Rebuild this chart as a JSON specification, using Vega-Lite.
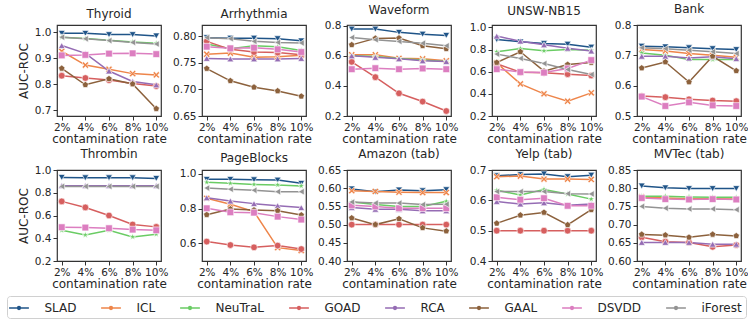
{
"$schema": "https://vega.github.io/schema/vega-lite/v6.json",
"background": "white",
"padding": {"left": 6, "top": 2, "right": 2, "bottom": 2},
"bounds": "flush",
"columns": 5,
"spacing": {"row": 54, "column": 41},
"resolve": {"scale": {"x": "independent", "y": "independent"}},
"config": {
 "font": "DejaVu Sans",
 "view": {"stroke": "#333333", "strokeWidth": 1.2},
 "axis": {"labelFontSize": 10.5, "titleFontSize": 12, "titleFontWeight": "normal", "labelColor": "#262626", "titleColor": "#262626", "tickColor": "#333333", "tickSize": 4, "domain": false, "grid": false, "labelPadding": 2},
 "axisX": {"labelAngle": 0, "labelOverlap": false, "titlePadding": 1},
 "axisY": {"titlePadding": 4},
 "title": {"fontSize": 12, "fontWeight": "normal", "offset": 4, "color": "#262626"},
 "legend": {"orient": "none", "legendX": -50, "legendY": 271, "direction": "horizontal", "columns": 8, "title": null, "labelFontSize": 12, "labelColor": "#262626", "strokeColor": "#d0d0d0", "cornerRadius": 3, "padding": 4, "columnPadding": 21, "labelOffset": 17.5, "symbolSize": 200, "symbolStrokeWidth": 1.5}
},
"data": {"values": [
{"panel":"Thyroid","method":"SLAD","rate":"2%","auc":0.995},{"panel":"Thyroid","method":"SLAD","rate":"4%","auc":0.995},{"panel":"Thyroid","method":"SLAD","rate":"6%","auc":0.99},{"panel":"Thyroid","method":"SLAD","rate":"8%","auc":0.99},{"panel":"Thyroid","method":"SLAD","rate":"10%","auc":0.985},
{"panel":"Thyroid","method":"ICL","rate":"2%","auc":0.926},{"panel":"Thyroid","method":"ICL","rate":"4%","auc":0.873},{"panel":"Thyroid","method":"ICL","rate":"6%","auc":0.857},{"panel":"Thyroid","method":"ICL","rate":"8%","auc":0.84},{"panel":"Thyroid","method":"ICL","rate":"10%","auc":0.835},
{"panel":"Thyroid","method":"NeuTraL","rate":"2%","auc":0.98},{"panel":"Thyroid","method":"NeuTraL","rate":"4%","auc":0.975},{"panel":"Thyroid","method":"NeuTraL","rate":"6%","auc":0.968},{"panel":"Thyroid","method":"NeuTraL","rate":"8%","auc":0.962},{"panel":"Thyroid","method":"NeuTraL","rate":"10%","auc":0.957},
{"panel":"Thyroid","method":"GOAD","rate":"2%","auc":0.832},{"panel":"Thyroid","method":"GOAD","rate":"4%","auc":0.823},{"panel":"Thyroid","method":"GOAD","rate":"6%","auc":0.815},{"panel":"Thyroid","method":"GOAD","rate":"8%","auc":0.802},{"panel":"Thyroid","method":"GOAD","rate":"10%","auc":0.792},
{"panel":"Thyroid","method":"RCA","rate":"2%","auc":0.948},{"panel":"Thyroid","method":"RCA","rate":"4%","auc":0.918},{"panel":"Thyroid","method":"RCA","rate":"6%","auc":0.85},{"panel":"Thyroid","method":"RCA","rate":"8%","auc":0.81},{"panel":"Thyroid","method":"RCA","rate":"10%","auc":0.797},
{"panel":"Thyroid","method":"GAAL","rate":"2%","auc":0.86},{"panel":"Thyroid","method":"GAAL","rate":"4%","auc":0.797},{"panel":"Thyroid","method":"GAAL","rate":"6%","auc":0.82},{"panel":"Thyroid","method":"GAAL","rate":"8%","auc":0.8},{"panel":"Thyroid","method":"GAAL","rate":"10%","auc":0.705},
{"panel":"Thyroid","method":"DSVDD","rate":"2%","auc":0.91},{"panel":"Thyroid","method":"DSVDD","rate":"4%","auc":0.912},{"panel":"Thyroid","method":"DSVDD","rate":"6%","auc":0.917},{"panel":"Thyroid","method":"DSVDD","rate":"8%","auc":0.918},{"panel":"Thyroid","method":"DSVDD","rate":"10%","auc":0.915},
{"panel":"Thyroid","method":"iForest","rate":"2%","auc":0.98},{"panel":"Thyroid","method":"iForest","rate":"4%","auc":0.974},{"panel":"Thyroid","method":"iForest","rate":"6%","auc":0.967},{"panel":"Thyroid","method":"iForest","rate":"8%","auc":0.96},{"panel":"Thyroid","method":"iForest","rate":"10%","auc":0.954},
{"panel":"Arrhythmia","method":"SLAD","rate":"2%","auc":0.797},{"panel":"Arrhythmia","method":"SLAD","rate":"4%","auc":0.796},{"panel":"Arrhythmia","method":"SLAD","rate":"6%","auc":0.796},{"panel":"Arrhythmia","method":"SLAD","rate":"8%","auc":0.795},{"panel":"Arrhythmia","method":"SLAD","rate":"10%","auc":0.791},
{"panel":"Arrhythmia","method":"ICL","rate":"2%","auc":0.766},{"panel":"Arrhythmia","method":"ICL","rate":"4%","auc":0.768},{"panel":"Arrhythmia","method":"ICL","rate":"6%","auc":0.76},{"panel":"Arrhythmia","method":"ICL","rate":"8%","auc":0.761},{"panel":"Arrhythmia","method":"ICL","rate":"10%","auc":0.764},
{"panel":"Arrhythmia","method":"NeuTraL","rate":"2%","auc":0.785},{"panel":"Arrhythmia","method":"NeuTraL","rate":"4%","auc":0.776},{"panel":"Arrhythmia","method":"NeuTraL","rate":"6%","auc":0.782},{"panel":"Arrhythmia","method":"NeuTraL","rate":"8%","auc":0.78},{"panel":"Arrhythmia","method":"NeuTraL","rate":"10%","auc":0.773},
{"panel":"Arrhythmia","method":"GOAD","rate":"2%","auc":0.79},{"panel":"Arrhythmia","method":"GOAD","rate":"4%","auc":0.775},{"panel":"Arrhythmia","method":"GOAD","rate":"6%","auc":0.77},{"panel":"Arrhythmia","method":"GOAD","rate":"8%","auc":0.769},{"panel":"Arrhythmia","method":"GOAD","rate":"10%","auc":0.765},
{"panel":"Arrhythmia","method":"RCA","rate":"2%","auc":0.758},{"panel":"Arrhythmia","method":"RCA","rate":"4%","auc":0.757},{"panel":"Arrhythmia","method":"RCA","rate":"6%","auc":0.757},{"panel":"Arrhythmia","method":"RCA","rate":"8%","auc":0.757},{"panel":"Arrhythmia","method":"RCA","rate":"10%","auc":0.758},
{"panel":"Arrhythmia","method":"GAAL","rate":"2%","auc":0.739},{"panel":"Arrhythmia","method":"GAAL","rate":"4%","auc":0.716},{"panel":"Arrhythmia","method":"GAAL","rate":"6%","auc":0.704},{"panel":"Arrhythmia","method":"GAAL","rate":"8%","auc":0.697},{"panel":"Arrhythmia","method":"GAAL","rate":"10%","auc":0.687},
{"panel":"Arrhythmia","method":"DSVDD","rate":"2%","auc":0.78},{"panel":"Arrhythmia","method":"DSVDD","rate":"4%","auc":0.777},{"panel":"Arrhythmia","method":"DSVDD","rate":"6%","auc":0.778},{"panel":"Arrhythmia","method":"DSVDD","rate":"8%","auc":0.775},{"panel":"Arrhythmia","method":"DSVDD","rate":"10%","auc":0.77},
{"panel":"Arrhythmia","method":"iForest","rate":"2%","auc":0.797},{"panel":"Arrhythmia","method":"iForest","rate":"4%","auc":0.795},{"panel":"Arrhythmia","method":"iForest","rate":"6%","auc":0.79},{"panel":"Arrhythmia","method":"iForest","rate":"8%","auc":0.788},{"panel":"Arrhythmia","method":"iForest","rate":"10%","auc":0.787},
{"panel":"Waveform","method":"SLAD","rate":"2%","auc":0.778},{"panel":"Waveform","method":"SLAD","rate":"4%","auc":0.778},{"panel":"Waveform","method":"SLAD","rate":"6%","auc":0.756},{"panel":"Waveform","method":"SLAD","rate":"8%","auc":0.744},{"panel":"Waveform","method":"SLAD","rate":"10%","auc":0.736},
{"panel":"Waveform","method":"ICL","rate":"2%","auc":0.607},{"panel":"Waveform","method":"ICL","rate":"4%","auc":0.607},{"panel":"Waveform","method":"ICL","rate":"6%","auc":0.584},{"panel":"Waveform","method":"ICL","rate":"8%","auc":0.58},{"panel":"Waveform","method":"ICL","rate":"10%","auc":0.567},
{"panel":"Waveform","method":"NeuTraL","rate":"2%","auc":0.6},{"panel":"Waveform","method":"NeuTraL","rate":"4%","auc":0.595},{"panel":"Waveform","method":"NeuTraL","rate":"6%","auc":0.582},{"panel":"Waveform","method":"NeuTraL","rate":"8%","auc":0.573},{"panel":"Waveform","method":"NeuTraL","rate":"10%","auc":0.562},
{"panel":"Waveform","method":"GOAD","rate":"2%","auc":0.56},{"panel":"Waveform","method":"GOAD","rate":"4%","auc":0.458},{"panel":"Waveform","method":"GOAD","rate":"6%","auc":0.351},{"panel":"Waveform","method":"GOAD","rate":"8%","auc":0.296},{"panel":"Waveform","method":"GOAD","rate":"10%","auc":0.233},
{"panel":"Waveform","method":"RCA","rate":"2%","auc":0.6},{"panel":"Waveform","method":"RCA","rate":"4%","auc":0.59},{"panel":"Waveform","method":"RCA","rate":"6%","auc":0.58},{"panel":"Waveform","method":"RCA","rate":"8%","auc":0.567},{"panel":"Waveform","method":"RCA","rate":"10%","auc":0.562},
{"panel":"Waveform","method":"GAAL","rate":"2%","auc":0.673},{"panel":"Waveform","method":"GAAL","rate":"4%","auc":0.716},{"panel":"Waveform","method":"GAAL","rate":"6%","auc":0.718},{"panel":"Waveform","method":"GAAL","rate":"8%","auc":0.667},{"panel":"Waveform","method":"GAAL","rate":"10%","auc":0.647},
{"panel":"Waveform","method":"DSVDD","rate":"2%","auc":0.511},{"panel":"Waveform","method":"DSVDD","rate":"4%","auc":0.518},{"panel":"Waveform","method":"DSVDD","rate":"6%","auc":0.511},{"panel":"Waveform","method":"DSVDD","rate":"8%","auc":0.516},{"panel":"Waveform","method":"DSVDD","rate":"10%","auc":0.511},
{"panel":"Waveform","method":"iForest","rate":"2%","auc":0.722},{"panel":"Waveform","method":"iForest","rate":"4%","auc":0.707},{"panel":"Waveform","method":"iForest","rate":"6%","auc":0.696},{"panel":"Waveform","method":"iForest","rate":"8%","auc":0.684},{"panel":"Waveform","method":"iForest","rate":"10%","auc":0.667},
{"panel":"UNSW-NB15","method":"SLAD","rate":"2%","auc":0.891},{"panel":"UNSW-NB15","method":"SLAD","rate":"4%","auc":0.87},{"panel":"UNSW-NB15","method":"SLAD","rate":"6%","auc":0.855},{"panel":"UNSW-NB15","method":"SLAD","rate":"8%","auc":0.848},{"panel":"UNSW-NB15","method":"SLAD","rate":"10%","auc":0.822},
{"panel":"UNSW-NB15","method":"ICL","rate":"2%","auc":0.68},{"panel":"UNSW-NB15","method":"ICL","rate":"4%","auc":0.49},{"panel":"UNSW-NB15","method":"ICL","rate":"6%","auc":0.4},{"panel":"UNSW-NB15","method":"ICL","rate":"8%","auc":0.334},{"panel":"UNSW-NB15","method":"ICL","rate":"10%","auc":0.409},
{"panel":"UNSW-NB15","method":"NeuTraL","rate":"2%","auc":0.78},{"panel":"UNSW-NB15","method":"NeuTraL","rate":"4%","auc":0.81},{"panel":"UNSW-NB15","method":"NeuTraL","rate":"6%","auc":0.789},{"panel":"UNSW-NB15","method":"NeuTraL","rate":"8%","auc":0.8},{"panel":"UNSW-NB15","method":"NeuTraL","rate":"10%","auc":0.794},
{"panel":"UNSW-NB15","method":"GOAD","rate":"2%","auc":0.672},{"panel":"UNSW-NB15","method":"GOAD","rate":"4%","auc":0.595},{"panel":"UNSW-NB15","method":"GOAD","rate":"6%","auc":0.59},{"panel":"UNSW-NB15","method":"GOAD","rate":"8%","auc":0.578},{"panel":"UNSW-NB15","method":"GOAD","rate":"10%","auc":0.566},
{"panel":"UNSW-NB15","method":"RCA","rate":"2%","auc":0.922},{"panel":"UNSW-NB15","method":"RCA","rate":"4%","auc":0.876},{"panel":"UNSW-NB15","method":"RCA","rate":"6%","auc":0.843},{"panel":"UNSW-NB15","method":"RCA","rate":"8%","auc":0.812},{"panel":"UNSW-NB15","method":"RCA","rate":"10%","auc":0.787},
{"panel":"UNSW-NB15","method":"GAAL","rate":"2%","auc":0.683},{"panel":"UNSW-NB15","method":"GAAL","rate":"4%","auc":0.78},{"panel":"UNSW-NB15","method":"GAAL","rate":"6%","auc":0.605},{"panel":"UNSW-NB15","method":"GAAL","rate":"8%","auc":0.665},{"panel":"UNSW-NB15","method":"GAAL","rate":"10%","auc":0.683},
{"panel":"UNSW-NB15","method":"DSVDD","rate":"2%","auc":0.623},{"panel":"UNSW-NB15","method":"DSVDD","rate":"4%","auc":0.597},{"panel":"UNSW-NB15","method":"DSVDD","rate":"6%","auc":0.592},{"panel":"UNSW-NB15","method":"DSVDD","rate":"8%","auc":0.629},{"panel":"UNSW-NB15","method":"DSVDD","rate":"10%","auc":0.705},
{"panel":"UNSW-NB15","method":"iForest","rate":"2%","auc":0.759},{"panel":"UNSW-NB15","method":"iForest","rate":"4%","auc":0.72},{"panel":"UNSW-NB15","method":"iForest","rate":"6%","auc":0.674},{"panel":"UNSW-NB15","method":"iForest","rate":"8%","auc":0.62},{"panel":"UNSW-NB15","method":"iForest","rate":"10%","auc":0.575},
{"panel":"Bank","method":"SLAD","rate":"2%","auc":0.73},{"panel":"Bank","method":"SLAD","rate":"4%","auc":0.728},{"panel":"Bank","method":"SLAD","rate":"6%","auc":0.725},{"panel":"Bank","method":"SLAD","rate":"8%","auc":0.722},{"panel":"Bank","method":"SLAD","rate":"10%","auc":0.719},
{"panel":"Bank","method":"ICL","rate":"2%","auc":0.719},{"panel":"Bank","method":"ICL","rate":"4%","auc":0.714},{"panel":"Bank","method":"ICL","rate":"6%","auc":0.706},{"panel":"Bank","method":"ICL","rate":"8%","auc":0.7},{"panel":"Bank","method":"ICL","rate":"10%","auc":0.694},
{"panel":"Bank","method":"NeuTraL","rate":"2%","auc":0.708},{"panel":"Bank","method":"NeuTraL","rate":"4%","auc":0.7},{"panel":"Bank","method":"NeuTraL","rate":"6%","auc":0.686},{"panel":"Bank","method":"NeuTraL","rate":"8%","auc":0.686},{"panel":"Bank","method":"NeuTraL","rate":"10%","auc":0.686},
{"panel":"Bank","method":"GOAD","rate":"2%","auc":0.566},{"panel":"Bank","method":"GOAD","rate":"4%","auc":0.562},{"panel":"Bank","method":"GOAD","rate":"6%","auc":0.555},{"panel":"Bank","method":"GOAD","rate":"8%","auc":0.551},{"panel":"Bank","method":"GOAD","rate":"10%","auc":0.549},
{"panel":"Bank","method":"RCA","rate":"2%","auc":0.697},{"panel":"Bank","method":"RCA","rate":"4%","auc":0.697},{"panel":"Bank","method":"RCA","rate":"6%","auc":0.691},{"panel":"Bank","method":"RCA","rate":"8%","auc":0.695},{"panel":"Bank","method":"RCA","rate":"10%","auc":0.689},
{"panel":"Bank","method":"GAAL","rate":"2%","auc":0.658},{"panel":"Bank","method":"GAAL","rate":"4%","auc":0.678},{"panel":"Bank","method":"GAAL","rate":"6%","auc":0.612},{"panel":"Bank","method":"GAAL","rate":"8%","auc":0.697},{"panel":"Bank","method":"GAAL","rate":"10%","auc":0.649},
{"panel":"Bank","method":"DSVDD","rate":"2%","auc":0.564},{"panel":"Bank","method":"DSVDD","rate":"4%","auc":0.533},{"panel":"Bank","method":"DSVDD","rate":"6%","auc":0.545},{"panel":"Bank","method":"DSVDD","rate":"8%","auc":0.535},{"panel":"Bank","method":"DSVDD","rate":"10%","auc":0.533},
{"panel":"Bank","method":"iForest","rate":"2%","auc":0.725},{"panel":"Bank","method":"iForest","rate":"4%","auc":0.722},{"panel":"Bank","method":"iForest","rate":"6%","auc":0.717},{"panel":"Bank","method":"iForest","rate":"8%","auc":0.712},{"panel":"Bank","method":"iForest","rate":"10%","auc":0.706},
{"panel":"Thrombin","method":"SLAD","rate":"2%","auc":0.935},{"panel":"Thrombin","method":"SLAD","rate":"4%","auc":0.932},{"panel":"Thrombin","method":"SLAD","rate":"6%","auc":0.932},{"panel":"Thrombin","method":"SLAD","rate":"8%","auc":0.932},{"panel":"Thrombin","method":"SLAD","rate":"10%","auc":0.926},
{"panel":"Thrombin","method":"NeuTraL","rate":"2%","auc":0.47},{"panel":"Thrombin","method":"NeuTraL","rate":"4%","auc":0.429},{"panel":"Thrombin","method":"NeuTraL","rate":"6%","auc":0.47},{"panel":"Thrombin","method":"NeuTraL","rate":"8%","auc":0.412},{"panel":"Thrombin","method":"NeuTraL","rate":"10%","auc":0.435},
{"panel":"Thrombin","method":"GOAD","rate":"2%","auc":0.724},{"panel":"Thrombin","method":"GOAD","rate":"4%","auc":0.671},{"panel":"Thrombin","method":"GOAD","rate":"6%","auc":0.6},{"panel":"Thrombin","method":"GOAD","rate":"8%","auc":0.521},{"panel":"Thrombin","method":"GOAD","rate":"10%","auc":0.5},
{"panel":"Thrombin","method":"RCA","rate":"2%","auc":0.862},{"panel":"Thrombin","method":"RCA","rate":"4%","auc":0.862},{"panel":"Thrombin","method":"RCA","rate":"6%","auc":0.862},{"panel":"Thrombin","method":"RCA","rate":"8%","auc":0.862},{"panel":"Thrombin","method":"RCA","rate":"10%","auc":0.862},
{"panel":"Thrombin","method":"DSVDD","rate":"2%","auc":0.497},{"panel":"Thrombin","method":"DSVDD","rate":"4%","auc":0.494},{"panel":"Thrombin","method":"DSVDD","rate":"6%","auc":0.488},{"panel":"Thrombin","method":"DSVDD","rate":"8%","auc":0.476},{"panel":"Thrombin","method":"DSVDD","rate":"10%","auc":0.47},
{"panel":"Thrombin","method":"iForest","rate":"2%","auc":0.856},{"panel":"Thrombin","method":"iForest","rate":"4%","auc":0.856},{"panel":"Thrombin","method":"iForest","rate":"6%","auc":0.856},{"panel":"Thrombin","method":"iForest","rate":"8%","auc":0.856},{"panel":"Thrombin","method":"iForest","rate":"10%","auc":0.856},
{"panel":"PageBlocks","method":"SLAD","rate":"2%","auc":0.969},{"panel":"PageBlocks","method":"SLAD","rate":"4%","auc":0.969},{"panel":"PageBlocks","method":"SLAD","rate":"6%","auc":0.967},{"panel":"PageBlocks","method":"SLAD","rate":"8%","auc":0.965},{"panel":"PageBlocks","method":"SLAD","rate":"10%","auc":0.946},
{"panel":"PageBlocks","method":"ICL","rate":"2%","auc":0.86},{"panel":"PageBlocks","method":"ICL","rate":"4%","auc":0.825},{"panel":"PageBlocks","method":"ICL","rate":"6%","auc":0.783},{"panel":"PageBlocks","method":"ICL","rate":"8%","auc":0.575},{"panel":"PageBlocks","method":"ICL","rate":"10%","auc":0.558},
{"panel":"PageBlocks","method":"NeuTraL","rate":"2%","auc":0.952},{"panel":"PageBlocks","method":"NeuTraL","rate":"4%","auc":0.946},{"panel":"PageBlocks","method":"NeuTraL","rate":"6%","auc":0.94},{"panel":"PageBlocks","method":"NeuTraL","rate":"8%","auc":0.937},{"panel":"PageBlocks","method":"NeuTraL","rate":"10%","auc":0.931},
{"panel":"PageBlocks","method":"GOAD","rate":"2%","auc":0.61},{"panel":"PageBlocks","method":"GOAD","rate":"4%","auc":0.59},{"panel":"PageBlocks","method":"GOAD","rate":"6%","auc":0.577},{"panel":"PageBlocks","method":"GOAD","rate":"8%","auc":0.587},{"panel":"PageBlocks","method":"GOAD","rate":"10%","auc":0.567},
{"panel":"PageBlocks","method":"RCA","rate":"2%","auc":0.863},{"panel":"PageBlocks","method":"RCA","rate":"4%","auc":0.844},{"panel":"PageBlocks","method":"RCA","rate":"6%","auc":0.829},{"panel":"PageBlocks","method":"RCA","rate":"8%","auc":0.817},{"panel":"PageBlocks","method":"RCA","rate":"10%","auc":0.806},
{"panel":"PageBlocks","method":"GAAL","rate":"2%","auc":0.765},{"panel":"PageBlocks","method":"GAAL","rate":"4%","auc":0.798},{"panel":"PageBlocks","method":"GAAL","rate":"6%","auc":0.792},{"panel":"PageBlocks","method":"GAAL","rate":"8%","auc":0.788},{"panel":"PageBlocks","method":"GAAL","rate":"10%","auc":0.763},
{"panel":"PageBlocks","method":"DSVDD","rate":"2%","auc":0.802},{"panel":"PageBlocks","method":"DSVDD","rate":"4%","auc":0.779},{"panel":"PageBlocks","method":"DSVDD","rate":"6%","auc":0.777},{"panel":"PageBlocks","method":"DSVDD","rate":"8%","auc":0.754},{"panel":"PageBlocks","method":"DSVDD","rate":"10%","auc":0.737},
{"panel":"PageBlocks","method":"iForest","rate":"2%","auc":0.919},{"panel":"PageBlocks","method":"iForest","rate":"4%","auc":0.912},{"panel":"PageBlocks","method":"iForest","rate":"6%","auc":0.906},{"panel":"PageBlocks","method":"iForest","rate":"8%","auc":0.898},{"panel":"PageBlocks","method":"iForest","rate":"10%","auc":0.898},
{"panel":"Amazon (tab)","method":"SLAD","rate":"2%","auc":0.598},{"panel":"Amazon (tab)","method":"SLAD","rate":"4%","auc":0.59},{"panel":"Amazon (tab)","method":"SLAD","rate":"6%","auc":0.595},{"panel":"Amazon (tab)","method":"SLAD","rate":"8%","auc":0.593},{"panel":"Amazon (tab)","method":"SLAD","rate":"10%","auc":0.596},
{"panel":"Amazon (tab)","method":"ICL","rate":"2%","auc":0.593},{"panel":"Amazon (tab)","method":"ICL","rate":"4%","auc":0.591},{"panel":"Amazon (tab)","method":"ICL","rate":"6%","auc":0.589},{"panel":"Amazon (tab)","method":"ICL","rate":"8%","auc":0.588},{"panel":"Amazon (tab)","method":"ICL","rate":"10%","auc":0.588},
{"panel":"Amazon (tab)","method":"NeuTraL","rate":"2%","auc":0.562},{"panel":"Amazon (tab)","method":"NeuTraL","rate":"4%","auc":0.555},{"panel":"Amazon (tab)","method":"NeuTraL","rate":"6%","auc":0.55},{"panel":"Amazon (tab)","method":"NeuTraL","rate":"8%","auc":0.55},{"panel":"Amazon (tab)","method":"NeuTraL","rate":"10%","auc":0.564},
{"panel":"Amazon (tab)","method":"GOAD","rate":"2%","auc":0.5},{"panel":"Amazon (tab)","method":"GOAD","rate":"4%","auc":0.5},{"panel":"Amazon (tab)","method":"GOAD","rate":"6%","auc":0.5},{"panel":"Amazon (tab)","method":"GOAD","rate":"8%","auc":0.5},{"panel":"Amazon (tab)","method":"GOAD","rate":"10%","auc":0.5},
{"panel":"Amazon (tab)","method":"RCA","rate":"2%","auc":0.547},{"panel":"Amazon (tab)","method":"RCA","rate":"4%","auc":0.542},{"panel":"Amazon (tab)","method":"RCA","rate":"6%","auc":0.542},{"panel":"Amazon (tab)","method":"RCA","rate":"8%","auc":0.538},{"panel":"Amazon (tab)","method":"RCA","rate":"10%","auc":0.538},
{"panel":"Amazon (tab)","method":"GAAL","rate":"2%","auc":0.518},{"panel":"Amazon (tab)","method":"GAAL","rate":"4%","auc":0.5},{"panel":"Amazon (tab)","method":"GAAL","rate":"6%","auc":0.516},{"panel":"Amazon (tab)","method":"GAAL","rate":"8%","auc":0.491},{"panel":"Amazon (tab)","method":"GAAL","rate":"10%","auc":0.482},
{"panel":"Amazon (tab)","method":"DSVDD","rate":"2%","auc":0.553},{"panel":"Amazon (tab)","method":"DSVDD","rate":"4%","auc":0.55},{"panel":"Amazon (tab)","method":"DSVDD","rate":"6%","auc":0.545},{"panel":"Amazon (tab)","method":"DSVDD","rate":"8%","auc":0.545},{"panel":"Amazon (tab)","method":"DSVDD","rate":"10%","auc":0.545},
{"panel":"Amazon (tab)","method":"iForest","rate":"2%","auc":0.562},{"panel":"Amazon (tab)","method":"iForest","rate":"4%","auc":0.559},{"panel":"Amazon (tab)","method":"iForest","rate":"6%","auc":0.559},{"panel":"Amazon (tab)","method":"iForest","rate":"8%","auc":0.555},{"panel":"Amazon (tab)","method":"iForest","rate":"10%","auc":0.556},
{"panel":"Yelp (tab)","method":"SLAD","rate":"2%","auc":0.681},{"panel":"Yelp (tab)","method":"SLAD","rate":"4%","auc":0.685},{"panel":"Yelp (tab)","method":"SLAD","rate":"6%","auc":0.687},{"panel":"Yelp (tab)","method":"SLAD","rate":"8%","auc":0.678},{"panel":"Yelp (tab)","method":"SLAD","rate":"10%","auc":0.683},
{"panel":"Yelp (tab)","method":"ICL","rate":"2%","auc":0.678},{"panel":"Yelp (tab)","method":"ICL","rate":"4%","auc":0.68},{"panel":"Yelp (tab)","method":"ICL","rate":"6%","auc":0.67},{"panel":"Yelp (tab)","method":"ICL","rate":"8%","auc":0.67},{"panel":"Yelp (tab)","method":"ICL","rate":"10%","auc":0.669},
{"panel":"Yelp (tab)","method":"NeuTraL","rate":"2%","auc":0.633},{"panel":"Yelp (tab)","method":"NeuTraL","rate":"4%","auc":0.618},{"panel":"Yelp (tab)","method":"NeuTraL","rate":"6%","auc":0.636},{"panel":"Yelp (tab)","method":"NeuTraL","rate":"8%","auc":0.621},{"panel":"Yelp (tab)","method":"NeuTraL","rate":"10%","auc":0.604},
{"panel":"Yelp (tab)","method":"GOAD","rate":"2%","auc":0.5},{"panel":"Yelp (tab)","method":"GOAD","rate":"4%","auc":0.5},{"panel":"Yelp (tab)","method":"GOAD","rate":"6%","auc":0.5},{"panel":"Yelp (tab)","method":"GOAD","rate":"8%","auc":0.5},{"panel":"Yelp (tab)","method":"GOAD","rate":"10%","auc":0.5},
{"panel":"Yelp (tab)","method":"RCA","rate":"2%","auc":0.596},{"panel":"Yelp (tab)","method":"RCA","rate":"4%","auc":0.588},{"panel":"Yelp (tab)","method":"RCA","rate":"6%","auc":0.592},{"panel":"Yelp (tab)","method":"RCA","rate":"8%","auc":0.584},{"panel":"Yelp (tab)","method":"RCA","rate":"10%","auc":0.588},
{"panel":"Yelp (tab)","method":"GAAL","rate":"2%","auc":0.524},{"panel":"Yelp (tab)","method":"GAAL","rate":"4%","auc":0.551},{"panel":"Yelp (tab)","method":"GAAL","rate":"6%","auc":0.56},{"panel":"Yelp (tab)","method":"GAAL","rate":"8%","auc":0.519},{"panel":"Yelp (tab)","method":"GAAL","rate":"10%","auc":0.569},
{"panel":"Yelp (tab)","method":"DSVDD","rate":"2%","auc":0.61},{"panel":"Yelp (tab)","method":"DSVDD","rate":"4%","auc":0.602},{"panel":"Yelp (tab)","method":"DSVDD","rate":"6%","auc":0.607},{"panel":"Yelp (tab)","method":"DSVDD","rate":"8%","auc":0.582},{"panel":"Yelp (tab)","method":"DSVDD","rate":"10%","auc":0.582},
{"panel":"Yelp (tab)","method":"iForest","rate":"2%","auc":0.629},{"panel":"Yelp (tab)","method":"iForest","rate":"4%","auc":0.629},{"panel":"Yelp (tab)","method":"iForest","rate":"6%","auc":0.629},{"panel":"Yelp (tab)","method":"iForest","rate":"8%","auc":0.622},{"panel":"Yelp (tab)","method":"iForest","rate":"10%","auc":0.621},
{"panel":"MVTec (tab)","method":"SLAD","rate":"2%","auc":0.806},{"panel":"MVTec (tab)","method":"SLAD","rate":"4%","auc":0.801},{"panel":"MVTec (tab)","method":"SLAD","rate":"6%","auc":0.799},{"panel":"MVTec (tab)","method":"SLAD","rate":"8%","auc":0.799},{"panel":"MVTec (tab)","method":"SLAD","rate":"10%","auc":0.799},
{"panel":"MVTec (tab)","method":"ICL","rate":"2%","auc":0.776},{"panel":"MVTec (tab)","method":"ICL","rate":"4%","auc":0.773},{"panel":"MVTec (tab)","method":"ICL","rate":"6%","auc":0.771},{"panel":"MVTec (tab)","method":"ICL","rate":"8%","auc":0.771},{"panel":"MVTec (tab)","method":"ICL","rate":"10%","auc":0.77},
{"panel":"MVTec (tab)","method":"NeuTraL","rate":"2%","auc":0.778},{"panel":"MVTec (tab)","method":"NeuTraL","rate":"4%","auc":0.778},{"panel":"MVTec (tab)","method":"NeuTraL","rate":"6%","auc":0.776},{"panel":"MVTec (tab)","method":"NeuTraL","rate":"8%","auc":0.775},{"panel":"MVTec (tab)","method":"NeuTraL","rate":"10%","auc":0.775},
{"panel":"MVTec (tab)","method":"GOAD","rate":"2%","auc":0.665},{"panel":"MVTec (tab)","method":"GOAD","rate":"4%","auc":0.653},{"panel":"MVTec (tab)","method":"GOAD","rate":"6%","auc":0.651},{"panel":"MVTec (tab)","method":"GOAD","rate":"8%","auc":0.639},{"panel":"MVTec (tab)","method":"GOAD","rate":"10%","auc":0.644},
{"panel":"MVTec (tab)","method":"RCA","rate":"2%","auc":0.651},{"panel":"MVTec (tab)","method":"RCA","rate":"4%","auc":0.651},{"panel":"MVTec (tab)","method":"RCA","rate":"6%","auc":0.651},{"panel":"MVTec (tab)","method":"RCA","rate":"8%","auc":0.646},{"panel":"MVTec (tab)","method":"RCA","rate":"10%","auc":0.646},
{"panel":"MVTec (tab)","method":"GAAL","rate":"2%","auc":0.673},{"panel":"MVTec (tab)","method":"GAAL","rate":"4%","auc":0.671},{"panel":"MVTec (tab)","method":"GAAL","rate":"6%","auc":0.665},{"panel":"MVTec (tab)","method":"GAAL","rate":"8%","auc":0.673},{"panel":"MVTec (tab)","method":"GAAL","rate":"10%","auc":0.669},
{"panel":"MVTec (tab)","method":"DSVDD","rate":"2%","auc":0.773},{"panel":"MVTec (tab)","method":"DSVDD","rate":"4%","auc":0.77},{"panel":"MVTec (tab)","method":"DSVDD","rate":"6%","auc":0.769},{"panel":"MVTec (tab)","method":"DSVDD","rate":"8%","auc":0.77},{"panel":"MVTec (tab)","method":"DSVDD","rate":"10%","auc":0.769},
{"panel":"MVTec (tab)","method":"iForest","rate":"2%","auc":0.75},{"panel":"MVTec (tab)","method":"iForest","rate":"4%","auc":0.745},{"panel":"MVTec (tab)","method":"iForest","rate":"6%","auc":0.743},{"panel":"MVTec (tab)","method":"iForest","rate":"8%","auc":0.743},{"panel":"MVTec (tab)","method":"iForest","rate":"10%","auc":0.741}
]},
"concat": [
{"title": "Thyroid", "width": 104, "height": 91, "transform": [{"filter": "datum.panel === 'Thyroid'"}],
 "encoding": {
  "x": {"field": "rate", "type": "ordinal", "sort": ["2%","4%","6%","8%","10%"], "scale": {"type": "point", "padding": 0.2}, "axis": {"title": "contamination rate"}},
  "y": {"field": "auc", "type": "quantitative", "scale": {"domain": [0.677, 1.027], "nice": false, "zero": false}, "axis": {"values": [0.7, 0.8, 0.9, 1.0], "format": ".1f", "title": "AUC-ROC"}}
 },
 "layer": [
  {"mark": {"type": "line", "strokeWidth": 1.5}, "encoding": {"stroke": {"field": "method", "type": "nominal", "scale": {"domain": ["SLAD","ICL","NeuTraL","GOAD","RCA","GAAL","DSVDD","iForest"], "range": ["#1f5488","#ee854a","#6acc64","#d65f5f","#956cb4","#8c613c","#dc7ec0","#939393"]}, "legend": {"symbolType": "M-1.4,0H1.4M-0.2,0A0.2,0.2,0,1,0,0.2,0A0.2,0.2,0,1,0,-0.2,0Z"}}}},
  {"mark": {"type": "point", "filled": true, "size": 45, "stroke": "white", "strokeWidth": 0.6, "opacity": 1}, "encoding": {
   "fill": {"field": "method", "type": "nominal", "legend": null, "scale": {"range": ["#dc7ec0","#8c613c","#d65f5f","#ee854a","#6acc64","#956cb4","#1f5488","#939393"]}},
   "shape": {"field": "method", "type": "nominal", "legend": null, "scale": {"range": ["square","M0,-1L0.951,-0.309L0.588,0.809L-0.588,0.809L-0.951,-0.309Z","circle","M-1,-0.6L-0.6,-1L0,-0.4L0.6,-1L1,-0.6L0.4,0L1,0.6L0.6,1L0,0.4L-0.6,1L-1,0.6L-0.4,0Z","M0,-1L0.235,-0.324L0.951,-0.309L0.38,0.124L0.588,0.809L0,0.4L-0.588,0.809L-0.38,0.124L-0.951,-0.309L-0.235,-0.324Z","triangle-up","triangle-down","triangle-left"]}}}}
 ]
},
{"title": "Arrhythmia", "width": 104, "height": 91, "transform": [{"filter": "datum.panel === 'Arrhythmia'"}],
 "encoding": {
  "x": {"field": "rate", "type": "ordinal", "sort": ["2%","4%","6%","8%","10%"], "scale": {"type": "point", "padding": 0.2}, "axis": {"title": "contamination rate"}},
  "y": {"field": "auc", "type": "quantitative", "scale": {"domain": [0.65, 0.8207], "nice": false, "zero": false}, "axis": {"values": [0.65, 0.7, 0.75, 0.8], "format": ".2f", "title": null}}
 },
 "layer": [{"mark": {"type": "line", "strokeWidth": 1.5}, "encoding": {"stroke": {"field": "method", "type": "nominal"}}}, {"mark": {"type": "point", "filled": true, "size": 45, "stroke": "white", "strokeWidth": 0.6, "opacity": 1}, "encoding": {"fill": {"field": "method", "type": "nominal", "legend": null}, "shape": {"field": "method", "type": "nominal", "legend": null}}}]
},
{"title": "Waveform", "width": 104, "height": 91, "transform": [{"filter": "datum.panel === 'Waveform'"}],
 "encoding": {
  "x": {"field": "rate", "type": "ordinal", "sort": ["2%","4%","6%","8%","10%"], "scale": {"type": "point", "padding": 0.2}, "axis": {"title": "contamination rate"}},
  "y": {"field": "auc", "type": "quantitative", "scale": {"domain": [0.2, 0.805], "nice": false, "zero": false}, "axis": {"values": [0.2, 0.4, 0.6, 0.8], "format": ".1f", "title": null}}
 },
 "layer": [{"mark": {"type": "line", "strokeWidth": 1.5}, "encoding": {"stroke": {"field": "method", "type": "nominal"}}}, {"mark": {"type": "point", "filled": true, "size": 45, "stroke": "white", "strokeWidth": 0.6, "opacity": 1}, "encoding": {"fill": {"field": "method", "type": "nominal", "legend": null}, "shape": {"field": "method", "type": "nominal", "legend": null}}}]
},
{"title": "UNSW-NB15", "width": 104, "height": 91, "transform": [{"filter": "datum.panel === 'UNSW-NB15'"}],
 "encoding": {
  "x": {"field": "rate", "type": "ordinal", "sort": ["2%","4%","6%","8%","10%"], "scale": {"type": "point", "padding": 0.2}, "axis": {"title": "contamination rate"}},
  "y": {"field": "auc", "type": "quantitative", "scale": {"domain": [0.2, 1.022], "nice": false, "zero": false}, "axis": {"values": [0.2, 0.4, 0.6, 0.8, 1.0], "format": ".1f", "title": null}}
 },
 "layer": [{"mark": {"type": "line", "strokeWidth": 1.5}, "encoding": {"stroke": {"field": "method", "type": "nominal"}}}, {"mark": {"type": "point", "filled": true, "size": 45, "stroke": "white", "strokeWidth": 0.6, "opacity": 1}, "encoding": {"fill": {"field": "method", "type": "nominal", "legend": null}, "shape": {"field": "method", "type": "nominal", "legend": null}}}]
},
{"title": "Bank", "width": 104, "height": 91, "transform": [{"filter": "datum.panel === 'Bank'"}],
 "encoding": {
  "x": {"field": "rate", "type": "ordinal", "sort": ["2%","4%","6%","8%","10%"], "scale": {"type": "point", "padding": 0.2}, "axis": {"title": "contamination rate"}},
  "y": {"field": "auc", "type": "quantitative", "scale": {"domain": [0.5, 0.8], "nice": false, "zero": false}, "axis": {"values": [0.5, 0.6, 0.7, 0.8], "format": ".1f", "title": null}}
 },
 "layer": [{"mark": {"type": "line", "strokeWidth": 1.5}, "encoding": {"stroke": {"field": "method", "type": "nominal"}}}, {"mark": {"type": "point", "filled": true, "size": 45, "stroke": "white", "strokeWidth": 0.6, "opacity": 1}, "encoding": {"fill": {"field": "method", "type": "nominal", "legend": null}, "shape": {"field": "method", "type": "nominal", "legend": null}}}]
},
{"title": "Thrombin", "width": 104, "height": 91, "transform": [{"filter": "datum.panel === 'Thrombin'"}],
 "encoding": {
  "x": {"field": "rate", "type": "ordinal", "sort": ["2%","4%","6%","8%","10%"], "scale": {"type": "point", "padding": 0.2}, "axis": {"title": "contamination rate"}},
  "y": {"field": "auc", "type": "quantitative", "scale": {"domain": [0.2, 1.0], "nice": false, "zero": false}, "axis": {"values": [0.2, 0.4, 0.6, 0.8, 1.0], "format": ".1f", "title": "AUC-ROC"}}
 },
 "layer": [{"mark": {"type": "line", "strokeWidth": 1.5}, "encoding": {"stroke": {"field": "method", "type": "nominal"}}}, {"mark": {"type": "point", "filled": true, "size": 45, "stroke": "white", "strokeWidth": 0.6, "opacity": 1}, "encoding": {"fill": {"field": "method", "type": "nominal", "legend": null}, "shape": {"field": "method", "type": "nominal", "legend": null}}}]
},
{"title": "PageBlocks", "width": 104, "height": 91, "transform": [{"filter": "datum.panel === 'PageBlocks'"}],
 "encoding": {
  "x": {"field": "rate", "type": "ordinal", "sort": ["2%","4%","6%","8%","10%"], "scale": {"type": "point", "padding": 0.2}, "axis": {"title": "contamination rate"}},
  "y": {"field": "auc", "type": "quantitative", "scale": {"domain": [0.498, 1.023], "nice": false, "zero": false}, "axis": {"values": [0.6, 0.8, 1.0], "format": ".1f", "title": null}}
 },
 "layer": [{"mark": {"type": "line", "strokeWidth": 1.5}, "encoding": {"stroke": {"field": "method", "type": "nominal"}}}, {"mark": {"type": "point", "filled": true, "size": 45, "stroke": "white", "strokeWidth": 0.6, "opacity": 1}, "encoding": {"fill": {"field": "method", "type": "nominal", "legend": null}, "shape": {"field": "method", "type": "nominal", "legend": null}}}]
},
{"title": "Amazon (tab)", "width": 104, "height": 91, "transform": [{"filter": "datum.panel === 'Amazon (tab)'"}],
 "encoding": {
  "x": {"field": "rate", "type": "ordinal", "sort": ["2%","4%","6%","8%","10%"], "scale": {"type": "point", "padding": 0.2}, "axis": {"title": "contamination rate"}},
  "y": {"field": "auc", "type": "quantitative", "scale": {"domain": [0.4, 0.65], "nice": false, "zero": false}, "axis": {"values": [0.4, 0.45, 0.5, 0.55, 0.6, 0.65], "format": ".2f", "title": null}}
 },
 "layer": [{"mark": {"type": "line", "strokeWidth": 1.5}, "encoding": {"stroke": {"field": "method", "type": "nominal"}}}, {"mark": {"type": "point", "filled": true, "size": 45, "stroke": "white", "strokeWidth": 0.6, "opacity": 1}, "encoding": {"fill": {"field": "method", "type": "nominal", "legend": null}, "shape": {"field": "method", "type": "nominal", "legend": null}}}]
},
{"title": "Yelp (tab)", "width": 104, "height": 91, "transform": [{"filter": "datum.panel === 'Yelp (tab)'"}],
 "encoding": {
  "x": {"field": "rate", "type": "ordinal", "sort": ["2%","4%","6%","8%","10%"], "scale": {"type": "point", "padding": 0.2}, "axis": {"title": "contamination rate"}},
  "y": {"field": "auc", "type": "quantitative", "scale": {"domain": [0.4, 0.7], "nice": false, "zero": false}, "axis": {"values": [0.4, 0.5, 0.6, 0.7], "format": ".1f", "title": null}}
 },
 "layer": [{"mark": {"type": "line", "strokeWidth": 1.5}, "encoding": {"stroke": {"field": "method", "type": "nominal"}}}, {"mark": {"type": "point", "filled": true, "size": 45, "stroke": "white", "strokeWidth": 0.6, "opacity": 1}, "encoding": {"fill": {"field": "method", "type": "nominal", "legend": null}, "shape": {"field": "method", "type": "nominal", "legend": null}}}]
},
{"title": "MVTec (tab)", "width": 104, "height": 91, "transform": [{"filter": "datum.panel === 'MVTec (tab)'"}],
 "encoding": {
  "x": {"field": "rate", "type": "ordinal", "sort": ["2%","4%","6%","8%","10%"], "scale": {"type": "point", "padding": 0.2}, "axis": {"title": "contamination rate"}},
  "y": {"field": "auc", "type": "quantitative", "scale": {"domain": [0.6, 0.85], "nice": false, "zero": false}, "axis": {"values": [0.6, 0.65, 0.7, 0.75, 0.8, 0.85], "format": ".2f", "title": null}}
 },
 "layer": [{"mark": {"type": "line", "strokeWidth": 1.5}, "encoding": {"stroke": {"field": "method", "type": "nominal"}}}, {"mark": {"type": "point", "filled": true, "size": 45, "stroke": "white", "strokeWidth": 0.6, "opacity": 1}, "encoding": {"fill": {"field": "method", "type": "nominal", "legend": null}, "shape": {"field": "method", "type": "nominal", "legend": null}}}]
}
]
}
